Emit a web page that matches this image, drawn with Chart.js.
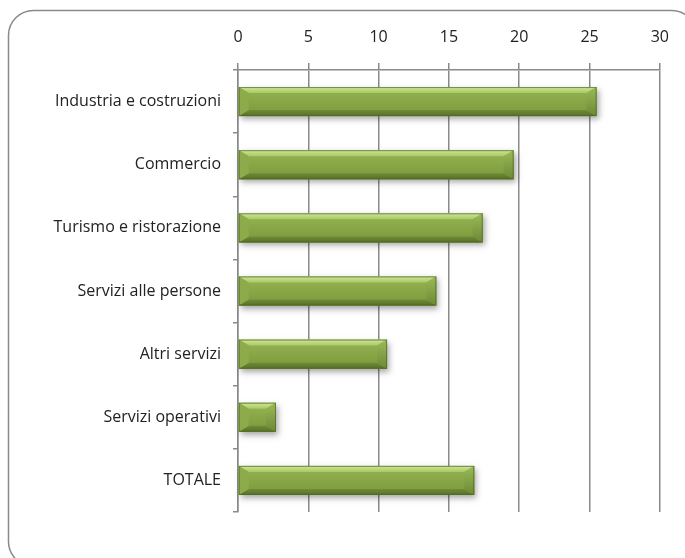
<!DOCTYPE html>
<html>
<head>
<meta charset="utf-8">
<script src="https://cdn.jsdelivr.net/npm/chart.js@4"></script>
<style>
  html, body { margin: 0; padding: 0; background: #ffffff; }
  #wrap { width: 685px; height: 558px; position: relative; }
</style>
</head>
<body>
<div id="wrap"><canvas id="c" width="685" height="558"></canvas></div>
<script>
const categories = ['Industria e costruzioni', 'Commercio', 'Turismo e ristorazione', 'Servizi alle persone', 'Altri servizi', 'Servizi operativi', 'TOTALE'];
const values = [25.5, 19.6, 17.4, 14.1, 10.6, 2.7, 16.8];
const xTicks = [0, 5, 10, 15, 20, 25, 30];

const FONT = '"Open Sans", Lato, sans-serif';

const framePlugin = {
  id: 'frame',
  beforeDraw(chart) {
    const ctx = chart.ctx;
    ctx.save();
    ctx.fillStyle = '#ffffff';
    ctx.fillRect(0, 0, chart.width, chart.height);
    ctx.beginPath();
    ctx.roundRect(8.5, 10.5, 688, 556, 25);
    ctx.lineWidth = 1.5;
    ctx.strokeStyle = '#8a8a8a';
    ctx.stroke();
    ctx.restore();
  }
};

const bevelBars = {
  id: 'bevelBars',
  beforeDatasetDraw(chart, args) {
    const ctx = chart.ctx;
    const meta = args.meta;
    ctx.save();
    meta.data.forEach(el => {
      const p = el.getProps(['x', 'y', 'base', 'height'], true);
      const L = p.base, R = p.x, T = p.y - p.height / 2, B = p.y + p.height / 2;
      const h = B - T;
      const bx = Math.min(10, (R - L) / 2);
      const by = Math.min(6, h / 2);
      ctx.save();
      ctx.shadowColor = 'rgba(0,0,0,0.35)';
      ctx.shadowBlur = 6;
      ctx.shadowOffsetX = 2;
      ctx.shadowOffsetY = 3;
      ctx.fillStyle = '#7d9b3d';
      ctx.fillRect(L, T, R - L, h);
      ctx.restore();
      let g = ctx.createLinearGradient(0, T, 0, B);
      g.addColorStop(0, '#96b453');
      g.addColorStop(1, '#7b9939');
      ctx.fillStyle = g;
      ctx.fillRect(L, T, R - L, h);
      g = ctx.createLinearGradient(0, T, 0, T + by);
      g.addColorStop(0, '#cde898');
      g.addColorStop(1, '#a9c866');
      ctx.fillStyle = g;
      ctx.beginPath();
      ctx.moveTo(L, T); ctx.lineTo(R, T); ctx.lineTo(R - bx, T + by); ctx.lineTo(L + bx, T + by); ctx.closePath();
      ctx.fill();
      g = ctx.createLinearGradient(0, B - by, 0, B);
      g.addColorStop(0, '#6f8c36');
      g.addColorStop(1, '#566f2a');
      ctx.fillStyle = g;
      ctx.beginPath();
      ctx.moveTo(L, B); ctx.lineTo(R, B); ctx.lineTo(R - bx, B - by); ctx.lineTo(L + bx, B - by); ctx.closePath();
      ctx.fill();
      g = ctx.createLinearGradient(0, T, 0, B);
      g.addColorStop(0, '#9aba58');
      g.addColorStop(1, '#6c8934');
      ctx.fillStyle = g;
      ctx.beginPath();
      ctx.moveTo(R, T); ctx.lineTo(R, B); ctx.lineTo(R - bx, B - by); ctx.lineTo(R - bx, T + by); ctx.closePath();
      ctx.fill();
      ctx.fillStyle = '#8dab4a';
      ctx.beginPath();
      ctx.moveTo(L, T); ctx.lineTo(L, B); ctx.lineTo(L + bx, B - by); ctx.lineTo(L + bx, T + by); ctx.closePath();
      ctx.fill();
      ctx.strokeStyle = 'rgba(80,104,38,0.7)';
      ctx.lineWidth = 1;
      ctx.strokeRect(L + 0.5, T + 0.5, R - L - 1, h - 1);
    });
    ctx.restore();
    return false;
  }
};

new Chart(document.getElementById('c'), {
  type: 'bar',
  data: {
    labels: categories,
    datasets: [{
      data: values,
      backgroundColor: '#7d9b3d',
      categoryPercentage: 0.46,
      barPercentage: 1.0
    }]
  },
  options: {
    indexAxis: 'y',
    responsive: false,
    animation: false,
    devicePixelRatio: 1,
    layout: { padding: { left: 0, right: 22, top: 0, bottom: 46 } },
    plugins: { legend: { display: false }, tooltip: { enabled: false } },
    scales: {
      x: {
        position: 'top',
        min: 0,
        max: 30,
        afterBuildTicks(scale) { scale.ticks = xTicks.map(v => ({ value: v })); },
        afterFit(scale) { scale.height = 70; },
        ticks: { color: '#222222', font: { family: FONT, size: 16 }, padding: 16 },
        grid: { color: '#8a8a8a', lineWidth: 1.5, tickLength: 7, drawTicks: true },
        border: { color: '#8a8a8a', width: 1.5 }
      },
      y: {
        offset: true,
        afterFit(scale) { scale.width = 238; },
        ticks: { color: '#222222', font: { family: FONT, size: 16 }, padding: 12 },
        grid: { offset: true, drawOnChartArea: false, drawTicks: true, tickLength: 5, color: '#8a8a8a', lineWidth: 1.5 },
        border: { color: '#8a8a8a', width: 1.5 }
      }
    }
  },
  plugins: [framePlugin, bevelBars]
});
</script>
</body>
</html>
